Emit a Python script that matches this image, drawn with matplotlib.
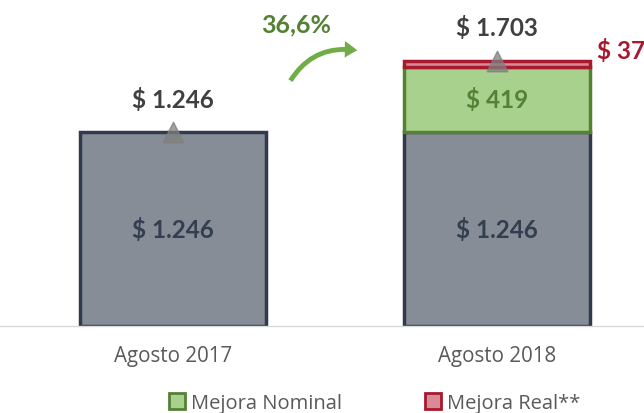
import matplotlib
matplotlib.use("Agg")
import matplotlib.pyplot as plt
from matplotlib.patches import Patch, FancyArrowPatch

categories = ["Agosto 2017", "Agosto 2018"]
base_values = [1246, 1246]
nominal_values = [0, 419]
real_values = [0, 37]
totals = [1246, 1703]
growth_label = "36,6%"
legend_labels = ["Mejora Nominal", "Mejora Real**"]

plt.rcParams['font.family'] = ['Lato', 'DejaVu Sans']

fig = plt.figure(figsize=(6.44, 4.14), dpi=100)
ax = fig.add_axes([0, 0.2101, 1, 0.7899])

x = [0, 1]
w = 0.574
gray_face, gray_edge = "#878d96", "#2f3a4d"
green_face, green_edge = "#a9d18e", "#548235"
red_face, red_edge = "#d98a96", "#a6192e"

ax.bar(x, base_values, width=w, color=gray_face, edgecolor=gray_edge, linewidth=2.5, zorder=2)
ax.bar(x, nominal_values, width=w, bottom=base_values, color=green_face,
       edgecolor=["none", green_edge], linewidth=2.5, zorder=3)
bottoms_real = [b + n for b, n in zip(base_values, nominal_values)]
ax.bar(x, real_values, width=w, bottom=bottoms_real, color=red_face,
       edgecolor=["none", red_edge], linewidth=2.5, zorder=4)

ax.scatter(x, totals, marker="^", s=220, color="#7f7f7f", alpha=0.75,
           edgecolor="#7f7f7f", zorder=6)

lab_color = "#404040"
for xi, t in zip(x, totals):
    ax.annotate(f"$ {t:,}".replace(",", "."), (xi, t), xytext=(0, 24),
                textcoords="offset points", ha="center", va="center",
                fontsize=17.5, fontweight="bold", color=lab_color)
for xi, b in zip(x, base_values):
    ax.text(xi, b / 2, f"$ {b:,}".replace(",", "."), ha="center", va="center",
            fontsize=17.5, fontweight="bold", color="#333f50", zorder=7)
ax.text(x[1], base_values[1] + nominal_values[1] / 2, f"$ {nominal_values[1]}",
        ha="center", va="center", fontsize=17.5, fontweight="bold", color="#548235", zorder=7)
ax.annotate(f"$ {real_values[1]}", (x[1] + w / 2, totals[1]), xytext=(5, 8),
            textcoords="offset points", ha="left", va="center",
            fontsize=17.5, fontweight="bold", color="#a6192e", annotation_clip=False)

ax.set_xlim(-0.534, 1.454)
ax.set_ylim(0, 2100)
ax.set_xticks(x)
ax.set_xticklabels(categories, fontsize=14.8, color="#595959", family=["Open Sans", "DejaVu Sans"])
ax.tick_params(axis="x", length=0, pad=14)
ax.set_yticks([])
for s in ["top", "right", "left"]:
    ax.spines[s].set_visible(False)
ax.spines["bottom"].set_color("#d9d9d9")
ax.spines["bottom"].set_linewidth(1)
ax.patch.set_alpha(0)

arrow = FancyArrowPatch((289 / 644, 1 - 84 / 414), (360 / 644, 1 - 52 / 414),
                        transform=fig.transFigure, connectionstyle="arc3,rad=-0.35",
                        arrowstyle="simple,head_length=9,head_width=12,tail_width=3.5",
                        color="#70ad47", lw=0)
fig.patches.append(arrow)
fig.text(296 / 644, 1 - 25 / 414, growth_label, ha="center", va="center",
         fontsize=18, fontweight="bold", color="#548235")

handles = [Patch(facecolor=green_face, edgecolor=green_edge, linewidth=2),
           Patch(facecolor=red_face, edgecolor=red_edge, linewidth=2)]
fig.legend(handles, legend_labels, loc="center", bbox_to_anchor=(0.582, 1 - 404 / 414),
           ncol=2, frameon=False, prop={"family": ["Open Sans", "DejaVu Sans"], "size": 14.5},
           handlelength=0.8, handleheight=0.8,
           handletextpad=0.3, columnspacing=4.1, labelcolor="#595959")

fig.savefig("out.png", dpi=100)
